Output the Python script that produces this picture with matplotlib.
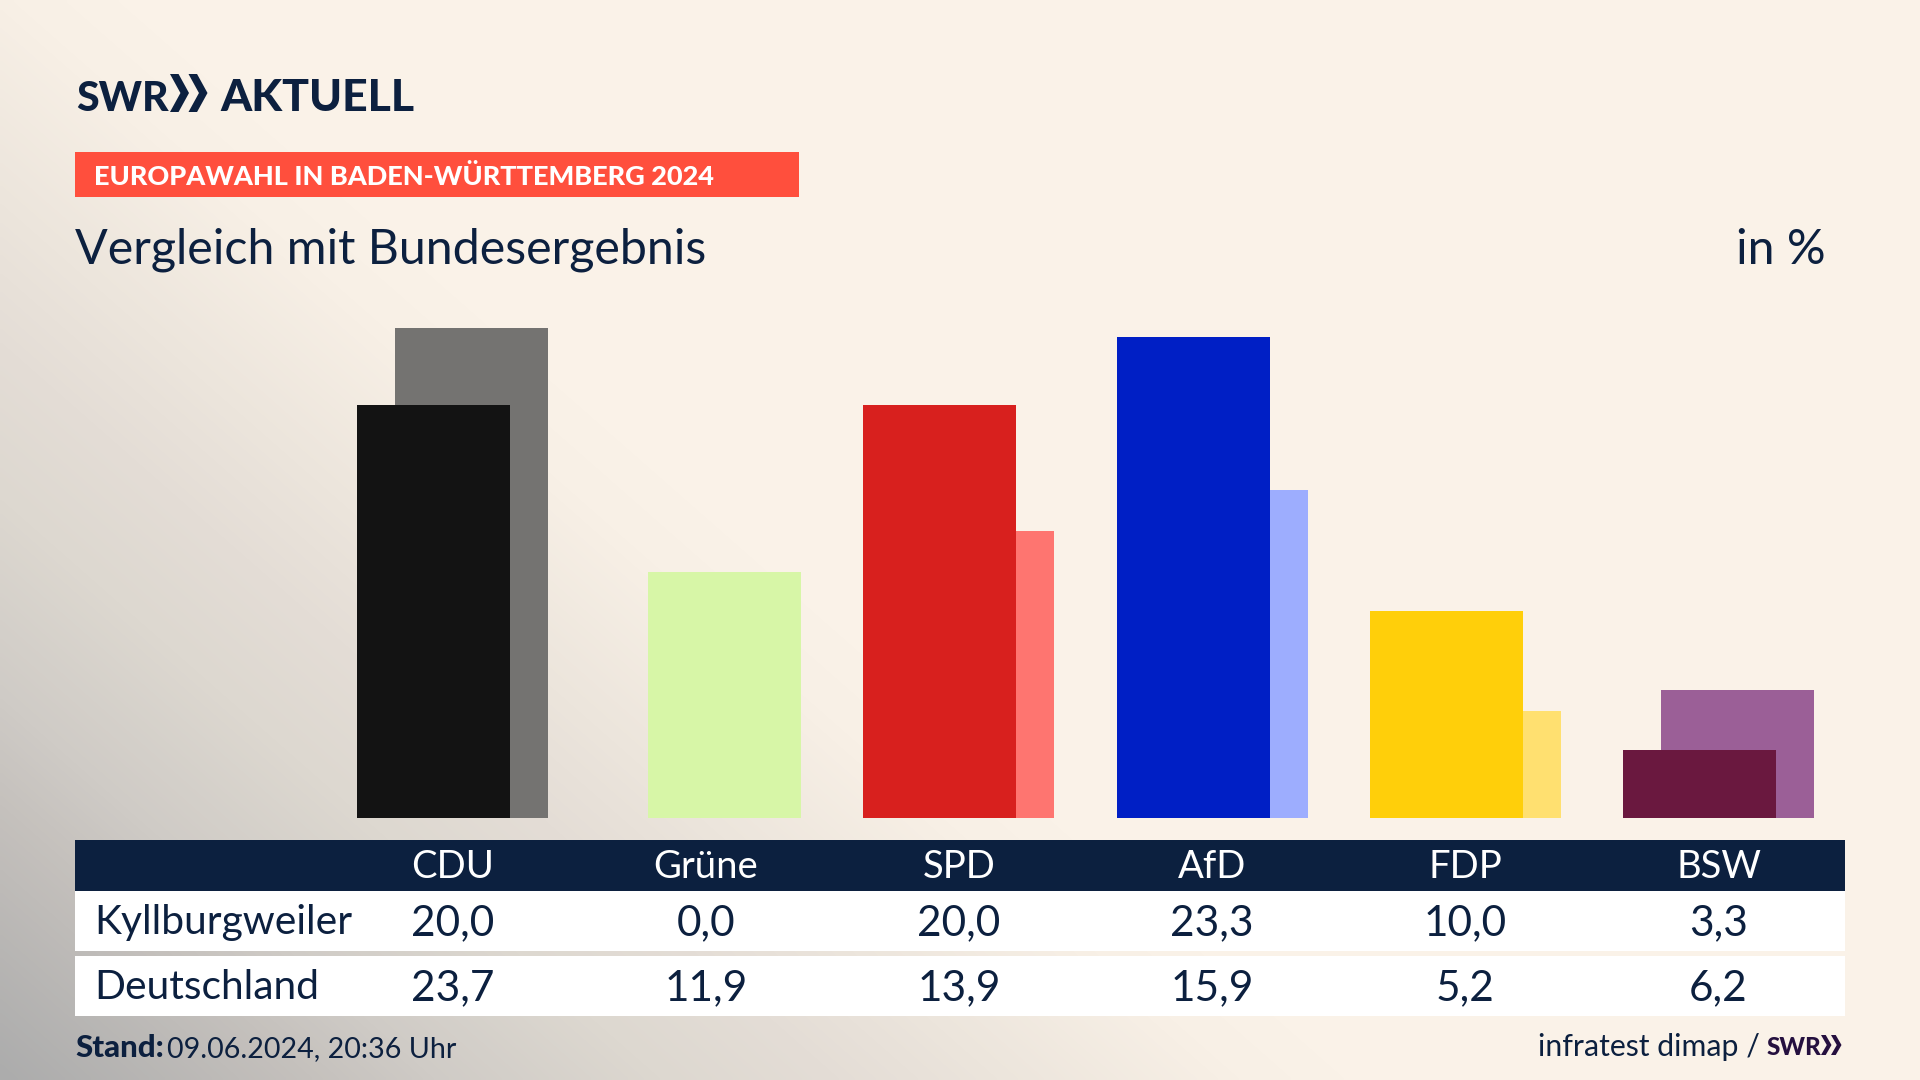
import numpy as np
import matplotlib
matplotlib.use("Agg")
import matplotlib.pyplot as plt
from matplotlib.patches import Rectangle, Polygon
from matplotlib.colors import LinearSegmentedColormap

parties = ["CDU", "Grüne", "SPD", "AfD", "FDP", "BSW"]
local_values = [20.0, 0.0, 20.0, 23.3, 10.0, 3.3]
national_values = [23.7, 11.9, 13.9, 15.9, 5.2, 6.2]
local_colors = ["#131313", "#8DC63F", "#D8201E", "#001FC5", "#FFCF0A", "#6A183F"]
national_colors = ["#747371", "#D7F6A7", "#FE7570", "#9DADFE", "#FFE070", "#9B5F97"]
row_names = ["Kyllburgweiler", "Deutschland"]

NAVY = "#0C203F"
PURPLE = "#25103F"
CREAM = "#FAF2E8"
FONT = "Lato"
plt.rcParams["font.family"] = FONT
W, H = 1920, 1080

fig = plt.figure(figsize=(19.2, 10.8), dpi=100)

# background: diagonal gradient from the lower left corner
bg = fig.add_axes([0, 0, 1, 1])
bg.set_xlim(0, W); bg.set_ylim(H, 0); bg.axis("off")
yy, xx = np.mgrid[0:H:270j, 0:W:480j]
t = np.clip((xx / 1250.0 + (H - yy) / 1100.0) / 1.08, 0, 1)
cmap = LinearSegmentedColormap.from_list(
    "g", [(0, "#ACACAC"), (0.23, "#C5C1BD"), (0.32, "#CFCBC6"), (0.49, "#DDD8D0"),
          (0.62, "#E4DDD6"), (0.74, "#ECE5DC"), (0.92, "#F8F0E6"), (1, CREAM)], N=256)
bg.imshow(t, extent=(0, W, H, 0), cmap=cmap, vmin=0, vmax=1, aspect="auto", interpolation="bilinear")
bg.set_xlim(0, W); bg.set_ylim(H, 0)

def T(x, y, s, size, color=NAVY, ha="left", weight="normal"):
    return bg.text(x, y, s, fontsize=size, color=color, ha=ha, va="baseline", fontweight=weight)

def chevrons(x, top, bot, w, gap, color):
    mid = (top + bot) / 2
    for i in range(2):
        x0 = x + i * gap
        bg.add_patch(Polygon([(x0, top), (x0 + w * .45, top), (x0 + w, mid), (x0 + w * .45, bot), (x0, bot),
                              (x0 + w * .55, mid)], closed=True, fc=color, ec="none"))

# logo
T(76, 111, "SWR", 29.5, weight="black")
chevrons(170, 74, 112, 19, 18.5, NAVY)
T(220, 111, "AKTUELL", 32, weight="black")

# header band
bg.add_patch(Rectangle((75, 152), 724, 45, fc="#FF4F3D", ec="none"))
T(94, 185, "EUROPAWAHL IN BADEN-WÜRTTEMBERG 2024", 19.5, color="white", weight="black")
T(75, 264, "Vergleich mit Bundesergebnis", 34.8)
T(1826, 264, "in %", 34.8, ha="right")

# bars
px_per_unit = 20.66
step = 253.2
c0 = 452.6
base_y, top_y = 818, 318
ax = fig.add_axes([(c0 - step / 2) / W, 1 - base_y / H, 6 * step / W, (base_y - top_y) / H])
ax.patch.set_alpha(0)
ax.set_xlim(-0.5, 5.5)
ax.set_ylim(0, (base_y - top_y) / px_per_unit)
ax.axis("off")
x = np.arange(len(parties))
bar_w, off = 153 / step, 19 / step
ax.bar(x + off, national_values, bar_w, color=national_colors, linewidth=0)
ax.bar(x - off, local_values, bar_w, color=local_colors, linewidth=0)

# table
bg.add_patch(Rectangle((75, 840), 1770, 51, fc=NAVY, ec="none"))
bg.add_patch(Rectangle((75, 891), 1770, 60, fc="white", ec="none"))
bg.add_patch(Rectangle((75, 956), 1770, 60, fc="white", ec="none"))
cx = [c0 + step * i for i in range(len(parties))]
for c, p, a, b in zip(cx, parties, local_values, national_values):
    T(c, 878, p, 27.5, color="white", ha="center")
    T(c, 935, f"{a:.1f}".replace(".", ","), 30.5, ha="center")
    T(c, 1000.5, f"{b:.1f}".replace(".", ","), 30.5, ha="center")
T(94, 934, row_names[0], 29.3)
T(94, 999, row_names[1], 29.3)

# footer
T(75, 1057, "Stand:", 22.5, weight="black")
T(167, 1057, "09.06.2024, 20:36 Uhr", 20.6)
T(1760, 1056, "infratest dimap /", 21.8, ha="right")
T(1767, 1055, "SWR", 17.5, color=PURPLE, weight="black")
chevrons(1821, 1035, 1055, 10.5, 10, PURPLE)

fig.savefig("out.png", dpi=100)
